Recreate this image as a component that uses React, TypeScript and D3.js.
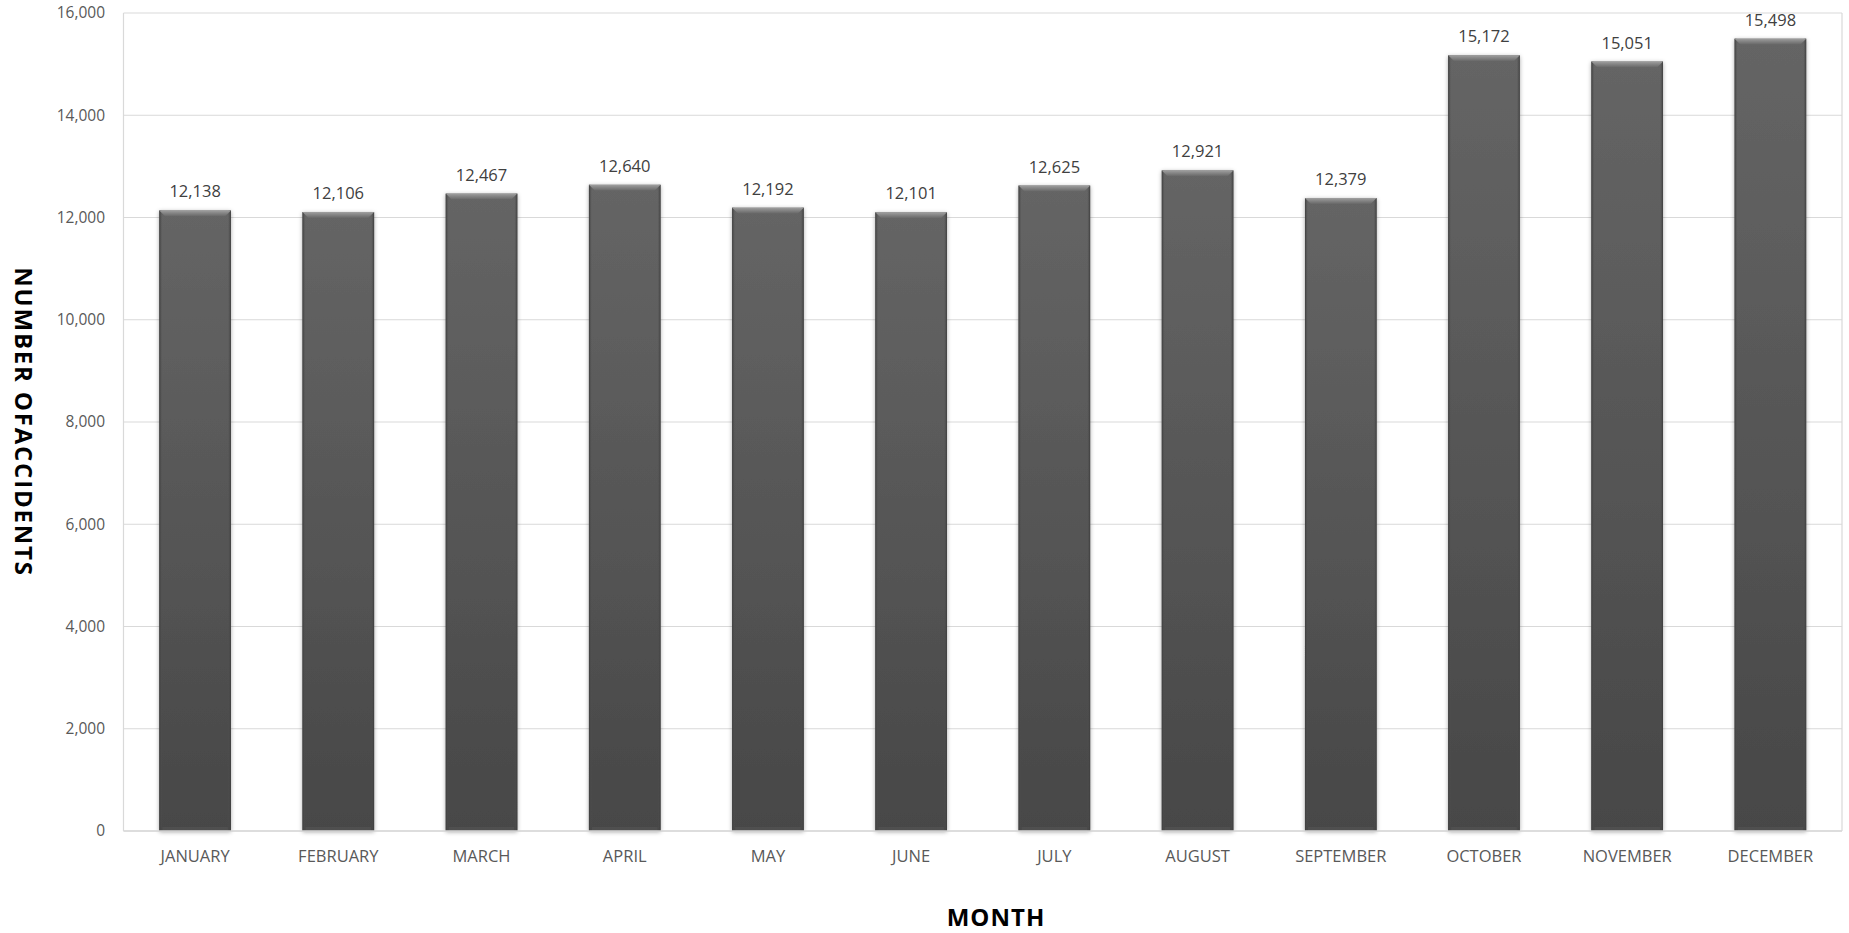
import React from "react";
import * as d3 from "d3";

const months = ["JANUARY","FEBRUARY","MARCH","APRIL","MAY","JUNE","JULY","AUGUST","SEPTEMBER","OCTOBER","NOVEMBER","DECEMBER"];
const accidents = [12138,12106,12467,12640,12192,12101,12625,12921,12379,15172,15051,15498];
const yTicks = [0,2000,4000,6000,8000,10000,12000,14000,16000];
const xTitle = "MONTH";
const yTitle = "NUMBER OFACCIDENTS";

const W = 1849, H = 933;
const left = 123.5, right = 1842, top = 13, bottom = 831;
const FONT = "'Open Sans', 'Noto Sans', sans-serif";

export default function App() {
  const x = d3.scaleBand<string>().domain(months).range([left, right]).paddingInner(0.5).paddingOuter(0.25);
  const y = d3.scaleLinear().domain([0, 16000]).range([bottom, top]);
  const fmt = d3.format(",");
  const bw = x.bandwidth();
  const bev = 6;
  return (
    <div style={{ position: "absolute", left: 0, top: 0, width: W, height: H, background: "#fff" }}>
      <svg width={W} height={H} style={{ display: "block" }}>
        <defs>
          <linearGradient id="body" x1="0" y1="0" x2="0" y2="1">
            <stop offset="0" stopColor="#656565" />
            <stop offset="1" stopColor="#474747" />
          </linearGradient>
          <linearGradient id="topbev" x1="0" y1="0" x2="0" y2="1">
            <stop offset="0" stopColor="#a0a0a0" />
            <stop offset="0.35" stopColor="#8a8a8a" />
            <stop offset="1" stopColor="#666" />
          </linearGradient>
          <linearGradient id="sideL" x1="0" y1="0" x2="1" y2="0">
            <stop offset="0" stopColor="#3c3c3c" />
            <stop offset="1" stopColor="#555" stopOpacity="0" />
          </linearGradient>
          <linearGradient id="sideR" x1="1" y1="0" x2="0" y2="0">
            <stop offset="0" stopColor="#3c3c3c" />
            <stop offset="1" stopColor="#555" stopOpacity="0" />
          </linearGradient>
          <filter id="shadow" x="-20%" y="-5%" width="140%" height="110%">
            <feDropShadow dx="0" dy="1" stdDeviation="2" floodColor="#000" floodOpacity="0.35" />
          </filter>
        </defs>
        {yTicks.map(t => (
          <line key={t} x1={left} x2={right} y1={y(t)} y2={y(t)} stroke="#d9d9d9" strokeWidth={1.2} />
        ))}
        <line x1={left} x2={left} y1={top} y2={bottom} stroke="#d9d9d9" strokeWidth={1.2} />
        <line x1={right} x2={right} y1={top} y2={bottom} stroke="#d9d9d9" strokeWidth={1.2} />
        {yTicks.map(t => (
          <text key={t} x={105} y={y(t)} dy="0.35em" textAnchor="end" fontFamily={FONT} fontSize={15.5} fill="#595959">{fmt(t)}</text>
        ))}
        {months.map((m, i) => {
          const x0 = x(m)!;
          const yt = y(accidents[i]);
          const h = bottom - yt;
          return (
            <g key={m}>
              <rect x={x0} y={yt} width={bw} height={h} fill="url(#body)" filter="url(#shadow)" />
              <rect x={x0} y={yt} width={3} height={h} fill="url(#sideL)" />
              <rect x={x0 + bw - 3} y={yt} width={3} height={h} fill="url(#sideR)" />
              <polygon points={`${x0},${yt} ${x0 + bw},${yt} ${x0 + bw - bev},${yt + bev} ${x0 + bev},${yt + bev}`} fill="url(#topbev)" />
              <rect x={x0 + 3} y={bottom - 4} width={bw - 6} height={4} fill="#555" opacity={0.6} />
              <text x={x0 + bw / 2} y={yt - 13} textAnchor="middle" fontFamily={FONT} fontSize={16.5} fill="#404040">{fmt(accidents[i])}</text>
            </g>
          );
        })}
        <line x1={left} x2={right} y1={bottom} y2={bottom} stroke="#d9d9d9" strokeWidth={1.5} />
        {months.map(m => (
          <text key={m} x={x(m)! + bw / 2} y={862} textAnchor="middle" fontFamily={FONT} fontSize={16.5} fill="#595959">{m}</text>
        ))}
        <text x={996} y={926} textAnchor="middle" fontFamily={FONT} fontWeight="bold" fontSize={24} letterSpacing={1} fill="#000">{xTitle}</text>
        <text transform={`translate(15, 422) rotate(90)`} textAnchor="middle" fontFamily={FONT} fontWeight="bold" fontSize={24} letterSpacing={1.8} fill="#000">{yTitle}</text>
      </svg>
    </div>
  );
}
